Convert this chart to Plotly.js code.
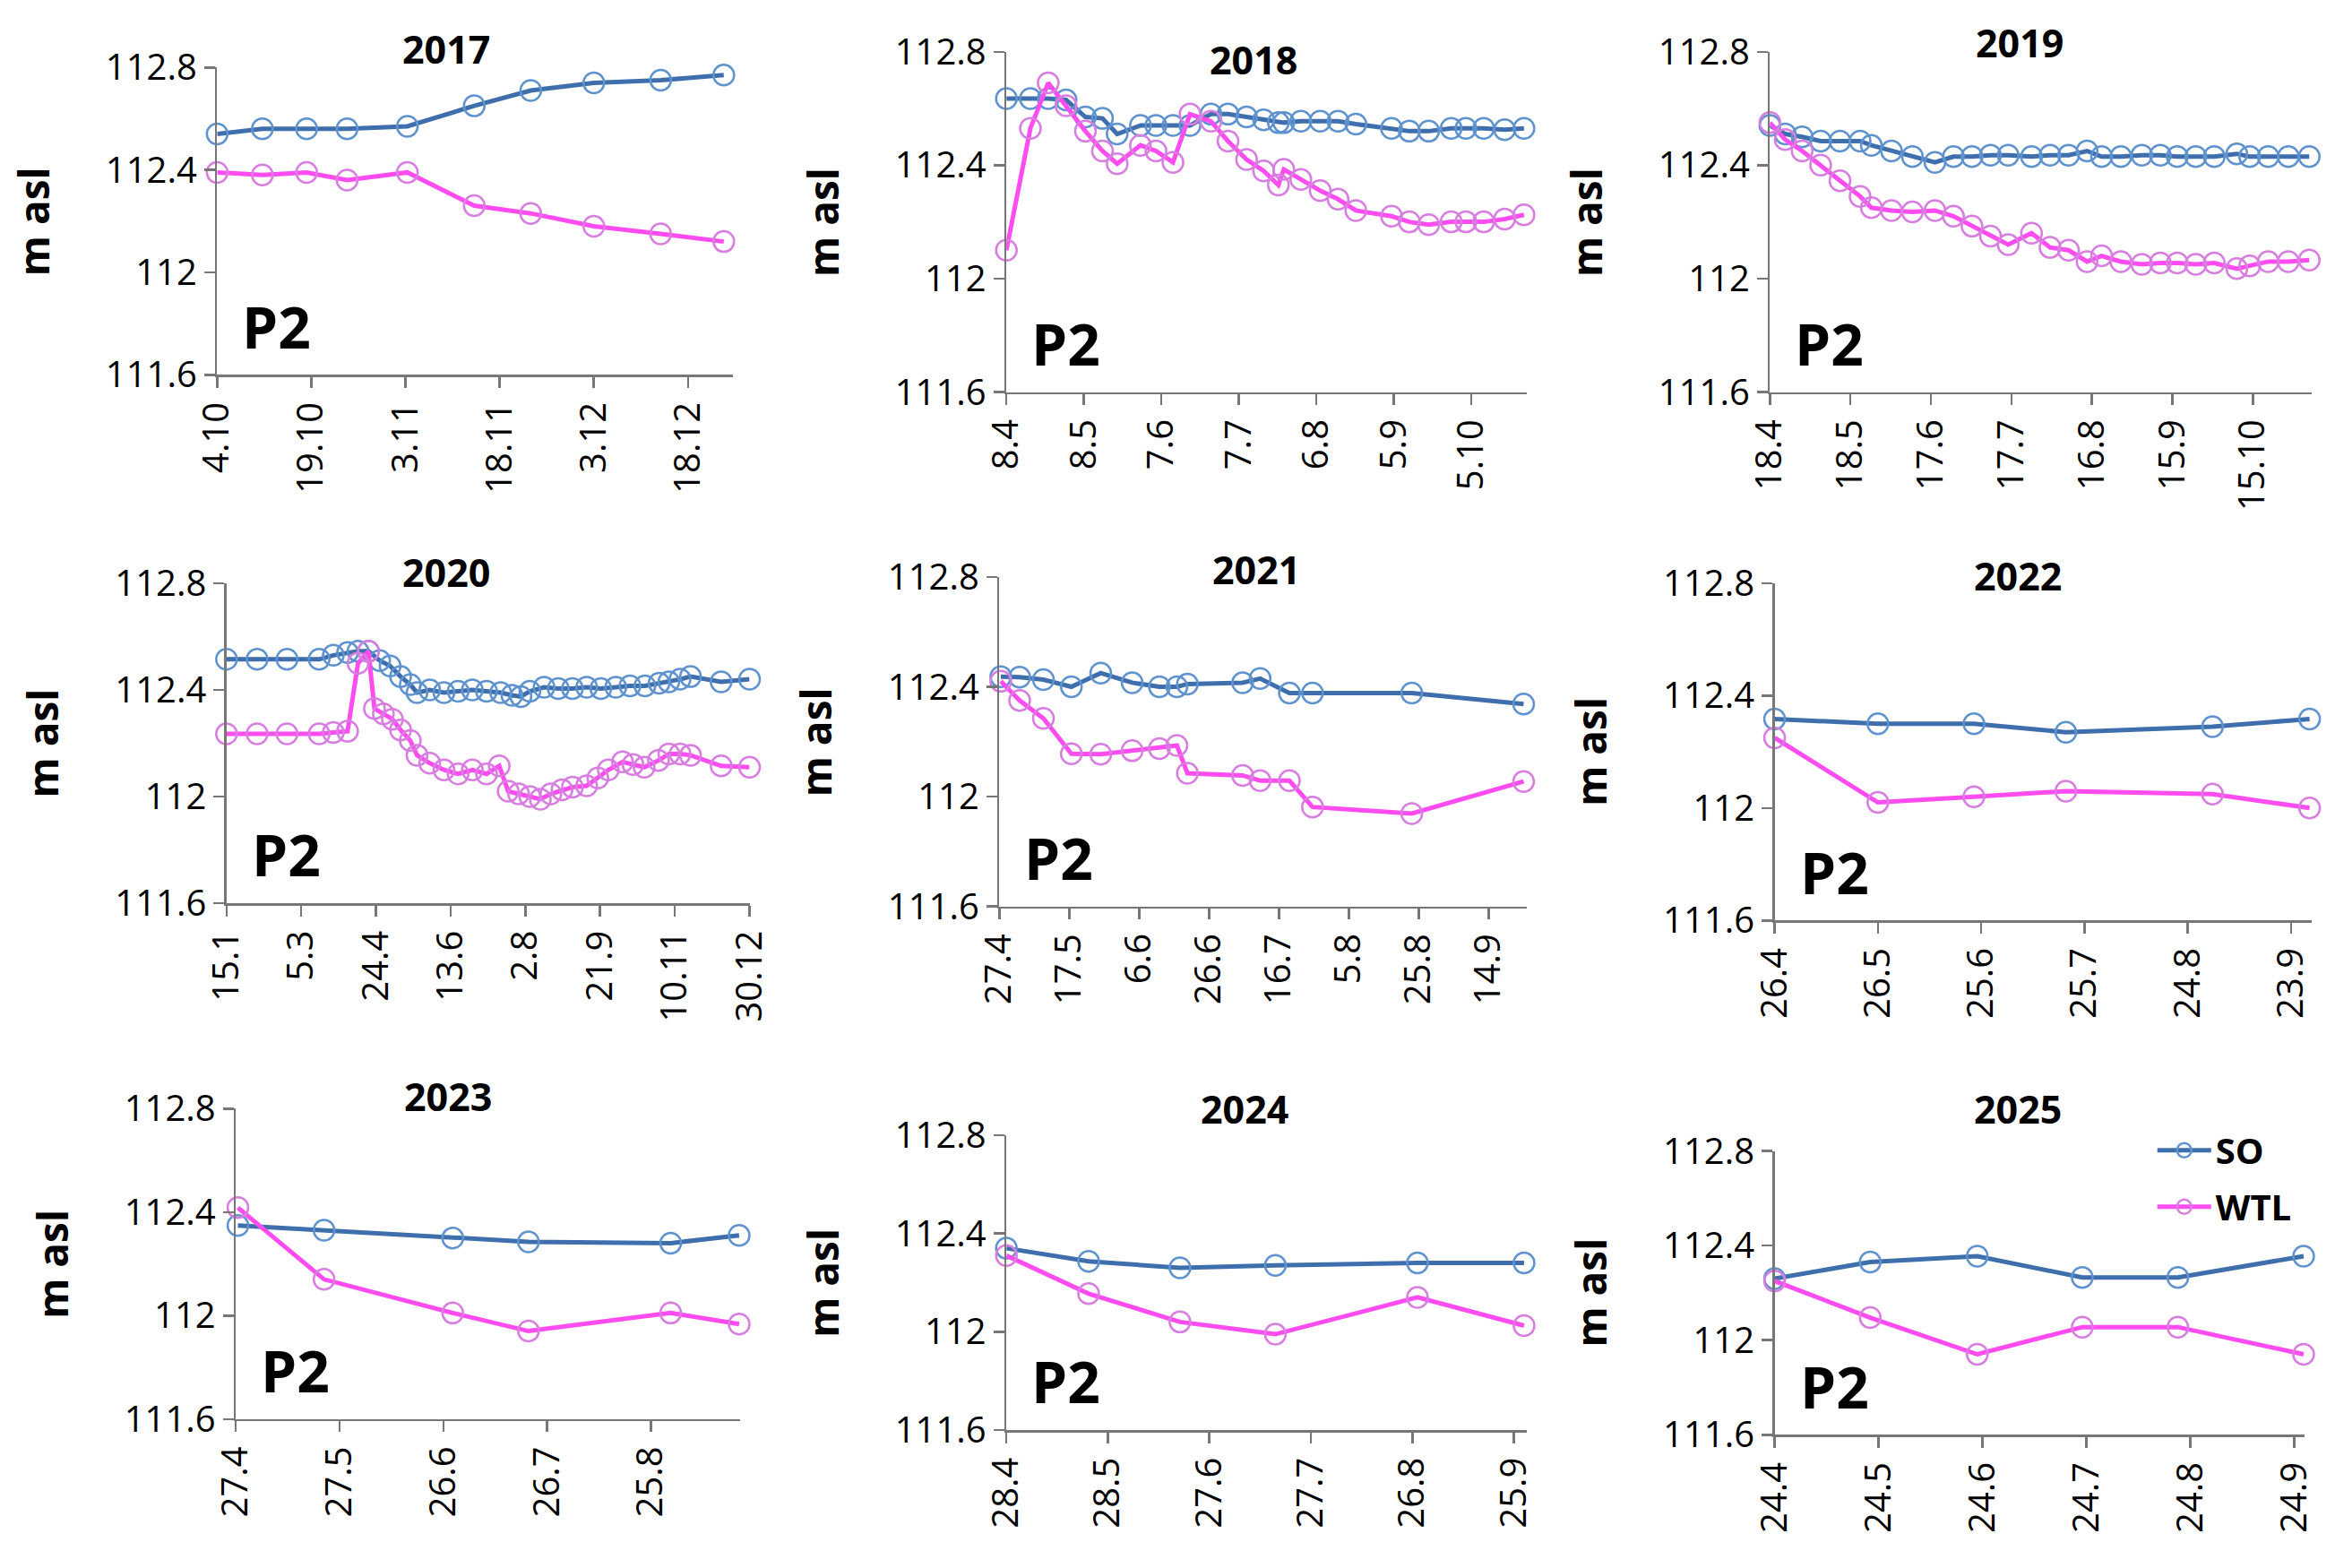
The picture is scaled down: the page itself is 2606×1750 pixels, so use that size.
<!DOCTYPE html>
<html>
<head>
<meta charset="utf-8">
<script src="https://cdn.plot.ly/plotly-3.0.1.min.js"></script>
<style>html,body{margin:0;padding:0;background:#fff}#chart{width:2606px;height:1750px}</style>
</head>
<body>
<div id="chart"></div>
<script>
// x positions are in "tick steps" from the first date label
const years = ["2017","2018","2019","2020","2021","2022","2023","2024","2025"];

const ticks2017 = ["4.10","19.10","3.11","18.11","3.12","18.12"];
const x2017 = [0,0.48,0.95,1.38,2.02,2.73,3.33,4.0,4.71,5.38];
const so2017 = [112.54,112.56,112.56,112.56,112.57,112.65,112.71,112.74,112.75,112.77];
const wtl2017 = [112.39,112.38,112.39,112.36,112.39,112.26,112.23,112.18,112.15,112.12];

const ticks2018 = ["8.4","8.5","7.6","7.7","6.8","5.9","5.10"];
const x2018 = [0,0.31,0.54,0.77,1.02,1.24,1.43,1.73,1.93,2.15,2.37,2.64,2.86,3.10,3.32,3.51,3.58,3.80,4.05,4.28,4.51,4.97,5.20,5.45,5.74,5.93,6.16,6.43,6.68];
const so2018 = [112.635,112.635,112.635,112.63,112.57,112.565,112.51,112.54,112.54,112.54,112.54,112.58,112.58,112.57,112.56,112.55,112.55,112.555,112.555,112.555,112.545,112.53,112.52,112.52,112.53,112.53,112.53,112.525,112.53];
const wtl2018 = [112.1,112.53,112.69,112.61,112.52,112.45,112.405,112.47,112.45,112.41,112.58,112.555,112.485,112.42,112.38,112.33,112.385,112.35,112.31,112.28,112.24,112.22,112.2,112.19,112.2,112.2,112.2,112.21,112.225];

const ticks2019 = ["18.4","18.5","17.6","17.7","16.8","15.9","15.10"];
const x2019 = [0,0.19,0.40,0.63,0.87,1.12,1.26,1.51,1.77,2.05,2.28,2.51,2.74,2.96,3.25,3.48,3.71,3.94,4.12,4.36,4.62,4.85,5.06,5.29,5.52,5.80,5.96,6.19,6.44,6.70];
const so2019 = [112.54,112.51,112.5,112.485,112.485,112.485,112.47,112.45,112.43,112.41,112.43,112.43,112.435,112.435,112.43,112.435,112.435,112.45,112.43,112.43,112.435,112.435,112.43,112.43,112.43,112.44,112.43,112.43,112.43,112.43];
const wtl2019 = [112.55,112.49,112.45,112.4,112.345,112.29,112.25,112.24,112.235,112.24,112.22,112.185,112.15,112.12,112.16,112.11,112.1,112.06,112.08,112.06,112.05,112.055,112.055,112.05,112.055,112.035,112.045,112.06,112.06,112.065];

const ticks2020 = ["15.1","5.3","24.4","13.6","2.8","21.9","10.11","30.12"];
const xSo2020 = [0,0.41,0.81,1.24,1.43,1.62,1.76,1.90,2.05,2.19,2.33,2.46,2.55,2.72,2.91,3.10,3.29,3.48,3.67,3.82,3.94,4.06,4.25,4.44,4.63,4.82,5.01,5.21,5.40,5.60,5.79,5.92,6.07,6.21,6.62,7.0];
const so2020 = [112.515,112.515,112.515,112.515,112.53,112.54,112.545,112.545,112.51,112.49,112.45,112.42,112.39,112.4,112.39,112.395,112.4,112.395,112.39,112.38,112.375,112.395,112.41,112.405,112.405,112.41,112.405,112.41,112.415,112.415,112.425,112.43,112.44,112.45,112.43,112.44];
const xWtl2020 = [0,0.41,0.81,1.24,1.43,1.62,1.76,1.90,1.98,2.10,2.22,2.33,2.46,2.55,2.72,2.91,3.10,3.29,3.48,3.65,3.77,3.91,4.06,4.20,4.34,4.49,4.63,4.82,4.97,5.11,5.30,5.44,5.59,5.78,5.92,6.07,6.21,6.62,7.0];
const wtl2020 = [112.235,112.235,112.235,112.235,112.24,112.245,112.5,112.545,112.33,112.31,112.29,112.25,112.21,112.155,112.125,112.1,112.085,112.1,112.085,112.115,112.02,112.01,112.0,111.99,112.01,112.025,112.035,112.04,112.07,112.1,112.13,112.12,112.11,112.135,112.16,112.16,112.155,112.115,112.11];

const ticks2021 = ["27.4","17.5","6.6","26.6","16.7","5.8","25.8","14.9"];
const x2021 = [0.02,0.29,0.63,1.03,1.45,1.90,2.29,2.54,2.69,3.48,3.73,4.15,4.48,5.90,7.50];
const so2021 = [112.437,112.435,112.426,112.4,112.45,112.415,112.4,112.4,112.41,112.415,112.43,112.377,112.377,112.377,112.337];
const wtl2021 = [112.42,112.35,112.285,112.156,112.154,112.167,112.175,112.186,112.085,112.077,112.058,112.058,111.962,111.938,112.055];

const ticks2022 = ["26.4","26.5","25.6","25.7","24.8","23.9"];
const x2022 = [0,1.0,1.93,2.82,4.24,5.18];
const so2022 = [112.317,112.30,112.30,112.27,112.29,112.317];
const wtl2022 = [112.25,112.02,112.04,112.06,112.05,112.0];

const ticks2023 = ["27.4","27.5","26.6","26.7","25.8"];
const x2023 = [0.02,0.85,2.09,2.82,4.19,4.85];
const so2023 = [112.348,112.33,112.30,112.285,112.28,112.31];
const wtl2023 = [112.417,112.14,112.01,111.94,112.01,111.967];

const ticks2024 = ["28.4","28.5","27.6","27.7","26.8","25.9"];
const x2024 = [0,0.81,1.71,2.65,4.05,5.10];
const so2024 = [112.34,112.287,112.26,112.27,112.28,112.28];
const wtl2024 = [112.31,112.155,112.04,111.99,112.14,112.025];

const ticks2025 = ["24.4","24.5","24.6","24.7","24.8","24.9"];
const x2025 = [0,0.92,1.95,2.96,3.88,5.09];
const so2025 = [112.26,112.33,112.355,112.265,112.265,112.355];
const wtl2025 = [112.25,112.095,111.94,112.055,112.055,111.94];

const panels = [
  {ticks: ticks2017, xs: x2017, so: so2017, xw: x2017, wtl: wtl2017},
  {ticks: ticks2018, xs: x2018, so: so2018, xw: x2018, wtl: wtl2018},
  {ticks: ticks2019, xs: x2019, so: so2019, xw: x2019, wtl: wtl2019},
  {ticks: ticks2020, xs: xSo2020, so: so2020, xw: xWtl2020, wtl: wtl2020},
  {ticks: ticks2021, xs: x2021, so: so2021, xw: x2021, wtl: wtl2021},
  {ticks: ticks2022, xs: x2022, so: so2022, xw: x2022, wtl: wtl2022},
  {ticks: ticks2023, xs: x2023, so: so2023, xw: x2023, wtl: wtl2023},
  {ticks: ticks2024, xs: x2024, so: so2024, xw: x2024, wtl: wtl2024},
  {ticks: ticks2025, xs: x2025, so: so2025, xw: x2025, wtl: wtl2025}
];

// placement: x domain, y domain, x range end, title position
const boxes = [
  {x:[0.093,0.314], y:[0.761,0.957], xmax:5.48, tx:0.191, ty:0.969},
  {x:[0.431,0.654], y:[0.750,0.967], xmax:6.72, tx:0.537, ty:0.962},
  {x:[0.758,0.990], y:[0.750,0.967], xmax:6.73, tx:0.865, ty:0.973},
  {x:[0.097,0.321], y:[0.424,0.628], xmax:7.0,  tx:0.191, ty:0.635},
  {x:[0.428,0.654], y:[0.422,0.632], xmax:7.55, tx:0.538, ty:0.637},
  {x:[0.760,0.990], y:[0.413,0.628], xmax:5.2,  tx:0.864, ty:0.633},
  {x:[0.101,0.317], y:[0.095,0.293], xmax:4.86, tx:0.192, ty:0.301},
  {x:[0.431,0.654], y:[0.088,0.276], xmax:5.13, tx:0.533, ty:0.293},
  {x:[0.760,0.987], y:[0.085,0.266], xmax:5.1,  tx:0.864, ty:0.293}
];

const soColor = "#3f6ead", soMark = "#5f93cf";
const wtlColor = "#ff4cf0", wtlMark = "#d77ee0";
const font = "Open Sans, Liberation Sans, sans-serif";

const data = [];
const layout = {
  width: 2606, height: 1750,
  margin: {t:0, l:0, r:0, b:0},
  paper_bgcolor: "#fff", plot_bgcolor: "#fff",
  showlegend: true,
  legend: {x:0.922, y:0.285, xanchor:"left", yanchor:"top", font:{family:font, size:40, color:"#000", weight:"bold"}, bgcolor:"rgba(0,0,0,0)", tracegroupgap:8, itemwidth:60},
  annotations: []
};

panels.forEach((p, i) => {
  const n = i + 1;
  const xa = n === 1 ? "x" : "x" + n;
  const ya = n === 1 ? "y" : "y" + n;
  const b = boxes[i];
  data.push({
    x: p.xs, y: p.so, xaxis: xa, yaxis: ya, name: "SO", type: "scatter", mode: "lines+markers",
    line: {color: soColor, width: 5},
    marker: {symbol: "circle-open", size: 23, color: soMark, line: {width: 2.5}},
    cliponaxis: false, showlegend: n === 9, legendgroup: "so"
  });
  data.push({
    x: p.xw, y: p.wtl, xaxis: xa, yaxis: ya, name: "WTL", type: "scatter", mode: "lines+markers",
    line: {color: wtlColor, width: 5},
    marker: {symbol: "circle-open", size: 23, color: wtlMark, line: {width: 2.5}},
    cliponaxis: false, showlegend: n === 9, legendgroup: "wtl"
  });
  const axBase = {showgrid: false, zeroline: false, showline: true, linecolor: "#777", linewidth: 2.5,
    ticks: "outside", ticklen: 12, tickwidth: 2.5, tickcolor: "#777",
    tickfont: {family: font, size: 40, color: "#000"}};
  layout["xaxis" + (n === 1 ? "" : n)] = Object.assign({}, axBase, {
    domain: b.x, anchor: ya, range: [0, b.xmax],
    tickvals: p.ticks.map((t, k) => k), ticktext: p.ticks, tickangle: -90
  });
  layout["yaxis" + (n === 1 ? "" : n)] = Object.assign({}, axBase, {
    domain: b.y, anchor: xa, range: [111.6, 112.8],
    tickvals: [111.6, 112, 112.4, 112.8], ticktext: ["111.6", "112", "112.4", "112.8"],
    tickfont: {family: font, size: 40, color: "#000"}
  });
  layout.annotations.push({xref: "paper", yref: "paper", x: b.tx, y: b.ty, text: years[i], showarrow: false,
    xanchor: "center", yanchor: "middle", font: {family: font, size: 43, color: "#000", weight: "bold"}});
  layout.annotations.push({xref: "paper", yref: "paper", x: b.x[0] - 0.079, y: (b.y[0] + b.y[1]) / 2, text: "m asl",
    textangle: -90, showarrow: false, xanchor: "center", yanchor: "middle",
    font: {family: font, size: 46, color: "#000", weight: "bold"}});
  layout.annotations.push({xref: "paper", yref: "paper", x: b.x[0] + 0.01, y: b.y[0] + 0.005, text: "P2",
    showarrow: false, xanchor: "left", yanchor: "bottom",
    font: {family: font, size: 64, color: "#000", weight: "bold"}});
});

Plotly.newPlot("chart", data, layout, {staticPlot: true});
</script>
</body>
</html>
